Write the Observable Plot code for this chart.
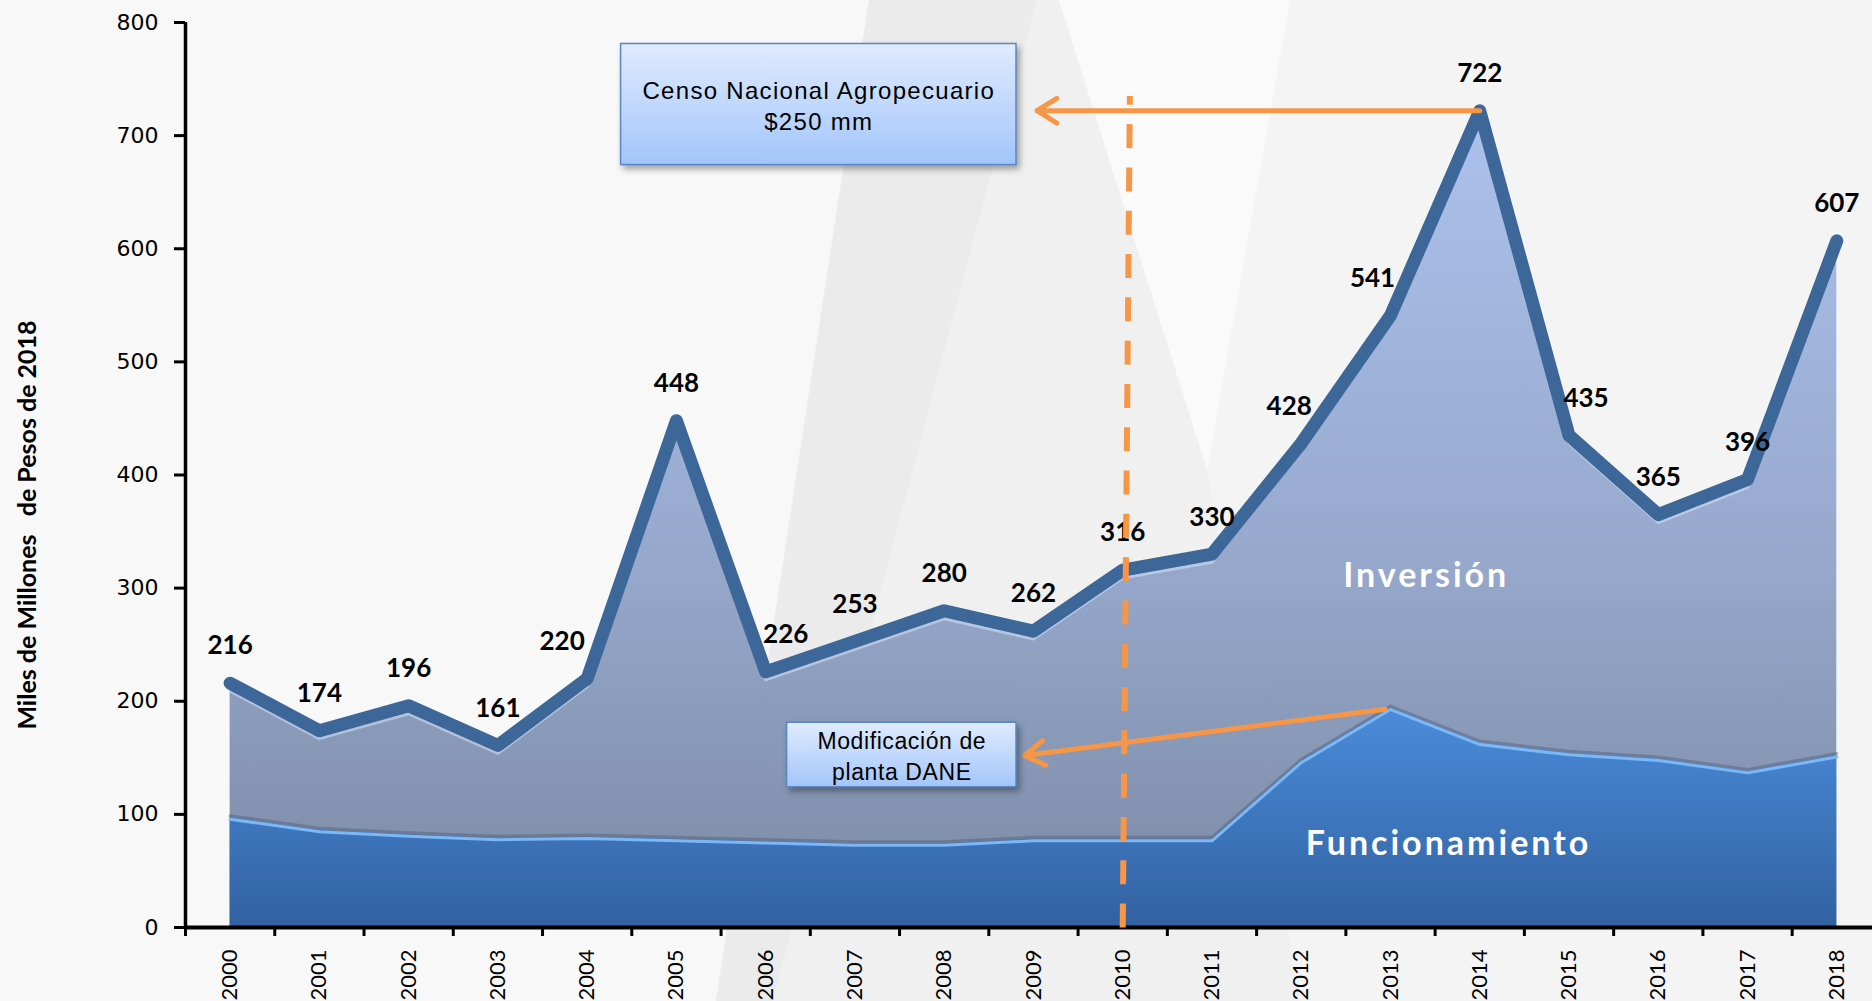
<!DOCTYPE html>
<html>
<head>
<meta charset="utf-8">
<script src="https://cdn.jsdelivr.net/npm/d3@7"></script>
<script src="https://cdn.jsdelivr.net/npm/@observablehq/plot@0.6"></script>
<style>
  html, body { margin: 0; padding: 0; width: 1872px; height: 1001px; overflow: hidden; background: #f4f4f4; }
  .bg { position: absolute; left: 0; top: 0; width: 1872px; height: 1001px; }
  .bg-left  { background: #f8f8f8; clip-path: polygon(0 0, 869px 0, 716px 1001px, 0 1001px); }
  .bg-band  { background: #ebebeb; clip-path: polygon(869px 0, 1037px 0, 773px 1001px, 716px 1001px); }
  .bg-mid   { background: #f0f0f0; clip-path: polygon(1037px 0, 1059px 0, 1207px 470px, 1300px 1001px, 773px 1001px); }
  .bg-white { background: #fafafa; clip-path: polygon(1059px 0, 1290px 0, 1207px 470px); }
  #chart { position: absolute; left: 0; top: 0; }
  #chart svg { overflow: visible; }
</style>
</head>
<body>
<div class="bg bg-left"></div>
<div class="bg bg-band"></div>
<div class="bg bg-mid"></div>
<div class="bg bg-white"></div>
<div id="chart"></div>
<script>
// ---- Data ----
const years = [2000, 2001, 2002, 2003, 2004, 2005, 2006, 2007, 2008, 2009, 2010, 2011, 2012, 2013, 2014, 2015, 2016, 2017, 2018];
const totalValues = [216, 174, 196, 161, 220, 448, 226, 253, 280, 262, 316, 330, 428, 541, 722, 435, 365, 396, 607];
const funcionamientoValues = [97, 86, 82, 79, 80, 78, 76, 74, 74, 78, 78, 78, 147, 194, 163, 154, 149, 138, 152];
const yTicks = [0, 100, 200, 300, 400, 500, 600, 700, 800];
const yTitle = "Miles de Millones\u00a0\u00a0 de Pesos de 2018";
const seriesNames = ["Inversión", "Funcionamiento"];
const seriesNamePos = [{year: 2013.4, value: 311}, {year: 2013.65, value: 74}];
const noteTexts = ["Censo Nacional Agropecuario\n$250 mm", "Modificación de\nplanta DANE"];
const noteBoxes = [
  {x1: 2004.38, x2: 2008.81, y1: 674, y2: 781},
  {x1: 2006.24, x2: 2008.81, y1: 124, y2: 181}
];
const noteArrows = [
  {x1: 2014, y1: 722, x2: 2009.04, y2: 722},
  {x1: 2012.94, y1: 193, x2: 2008.9, y2: 152}
];
const markerLine = [{x1: 2010, y1: 0, x2: 2010.08, y2: 735}];

// ---- Build table ----
const rows = years.map((year, i) => ({year, total: totalValues[i], func: funcionamientoValues[i]}));
const halfTicks = [years[0] - 0.5, ...years.slice(0, -1).map(y => y + 0.5)];

// label nudges (style: horizontal offsets of value labels)
const labelNudge = new Map([[2004, -25], [2006, 20], [2012, -12], [2013, -18], [2015, 17]]);
const dxOf = d => labelNudge.get(d.year) ?? 0;
const dxGroups = Array.from(new Set(rows.map(dxOf)));

const orange = "#f79646";

const chart = Plot.plot({
  width: 1872,
  height: 1001,
  marginLeft: 185,
  marginRight: 0,
  marginTop: 22,
  marginBottom: 74,
  style: {background: "transparent", color: "black"},
  x: {type: "linear", domain: [1999.5, 2018.4], axis: null, label: null},
  y: {domain: [0, 800], axis: null, label: null},
  marks: [
    // areas
    Plot.areaY(rows, {x: "year", y: "total", fill: "url(#gInv)"}),
    Plot.lineY(rows, {x: "year", y: "total", stroke: "#d6e1f7", strokeWidth: 3, dy: 8, strokeOpacity: 0.55}),
    Plot.areaY(rows, {x: "year", y: "func", fill: "url(#gFun)"}),
    Plot.lineY(rows, {x: "year", y: "func", stroke: "#4f5d78", strokeWidth: 3, dy: -2, strokeOpacity: 0.45}),
    Plot.lineY(rows, {x: "year", y: "func", stroke: "#7ab8f7", strokeWidth: 3, dy: 1.5}),
    // total line
    Plot.lineY(rows, {x: "year", y: "total", stroke: "#3d6699", strokeWidth: 13, strokeLinejoin: "round", strokeLinecap: "round"}),
    // axes
    Plot.ruleX([1999.5], {stroke: "black", strokeWidth: 3.5}),
    Plot.ruleY([0], {stroke: "black", strokeWidth: 4}),
    Plot.axisY({ticks: yTicks, tickSize: 11, tickPadding: 16, strokeWidth: 3, fontSize: 22, fontFamily: "DejaVu Sans", tickFormat: d => String(d), label: null}),
    Plot.axisX({ticks: halfTicks, tickSize: 9, strokeWidth: 3, tickFormat: () => "", label: null}),
    Plot.axisX({ticks: years, tickSize: 0, tickPadding: 22, tickRotate: -90, fontSize: 22, fontFamily: "Lato", tickFormat: d => String(d), label: null}),
    // y title
    Plot.text([yTitle], {text: d => d, frameAnchor: "left", rotate: -90, dx: -158, dy: 50, fontWeight: "bold", fontSize: 25, fontFamily: "Lato", textAnchor: "middle"}),
    // value labels
    ...dxGroups.map(dx => Plot.text(rows.filter(d => dxOf(d) === dx), {
      x: "year", y: "total", text: d => String(d.total), dx, dy: -37,
      fontWeight: "bold", fontSize: 26, fontFamily: "Lato", fill: "black"
    })),
    // series names
    Plot.text(seriesNames.map((name, i) => ({name, ...seriesNamePos[i]})), {
      x: "year", y: "value", text: "name", fill: "white", fontWeight: "bold", fontSize: 34, fontFamily: "Lato"
    }),
    // dashed marker at 2010
    Plot.link(markerLine, {x1: "x1", y1: "y1", x2: "x2", y2: "y2", stroke: orange, strokeWidth: 6, strokeDasharray: "24,19.3"}),
    // arrows
    Plot.arrow(noteArrows, {x1: "x1", y1: "y1", x2: "x2", y2: "y2", stroke: orange, strokeWidth: 5, headLength: 7, headAngle: 64}),
    // boxes
    Plot.rect(noteBoxes, {x1: "x1", x2: "x2", y1: "y1", y2: "y2", fill: "url(#gBox)", stroke: "#5a86c4", strokeWidth: 1.5}),
    Plot.text([noteTexts[0]], {text: d => d, x: () => (noteBoxes[0].x1 + noteBoxes[0].x2) / 2, y: () => (noteBoxes[0].y1 + noteBoxes[0].y2) / 2,
      fontSize: 24, lineHeight: 1.29, fontFamily: "Liberation Sans", fill: "black"}),
    Plot.text([noteTexts[1]], {text: d => d, x: () => (noteBoxes[1].x1 + noteBoxes[1].x2) / 2, y: () => (noteBoxes[1].y1 + noteBoxes[1].y2) / 2,
      fontSize: 23, lineHeight: 1.35, fontFamily: "Liberation Sans", fill: "black"})
  ]
});

// gradients
const ys = chart.scale("y");
const svg = d3.select(chart);
const defs = svg.insert("defs", ":first-child");
function linGrad(id, y1, y2, stops, user) {
  const g = defs.append("linearGradient").attr("id", id).attr("x1", 0).attr("x2", 0);
  if (user) g.attr("gradientUnits", "userSpaceOnUse").attr("y1", y1).attr("y2", y2);
  else g.attr("y1", 0).attr("y2", 1);
  for (const [o, c] of stops) g.append("stop").attr("offset", o).attr("stop-color", c);
}
linGrad("gInv", ys.apply(720), ys.apply(0), [[0, "#acc1ec"], [0.55, "#96a8cc"], [1, "#7b89a3"]], true);
linGrad("gFun", ys.apply(195), ys.apply(0), [[0, "#4b8cdb"], [1, "#3261a1"]], true);
linGrad("gBox", 0, 1, [[0, "#e0ebfe"], [1, "#a3c5fa"]], false);

// finishing styles: shadows, letter spacing, tick font
svg.selectAll("g").filter(function () { return this.getAttribute("fill") === "url(#gBox)"; })
  .style("filter", "drop-shadow(3px 4px 3px rgba(0,0,0,0.35))");
svg.selectAll("text").filter(function () { return seriesNames.includes(this.textContent); })
  .style("letter-spacing", "3px");
svg.selectAll("text").filter(function () { return this.textContent.startsWith("Censo") || this.textContent.startsWith("$250"); })
  .style("letter-spacing", "1.3px");
svg.selectAll("text").filter(function () { return this.textContent.startsWith("Modificaci") || this.textContent.startsWith("planta"); })
  .style("letter-spacing", "0.6px");
const yTickStrings = yTicks.map(String);
svg.selectAll("text").filter(function () { return yTickStrings.includes(this.textContent); })
  .style("font-family", "'DejaVu Sans'").style("font-size", "22px");

document.getElementById("chart").appendChild(chart);
</script>
</body>
</html>
